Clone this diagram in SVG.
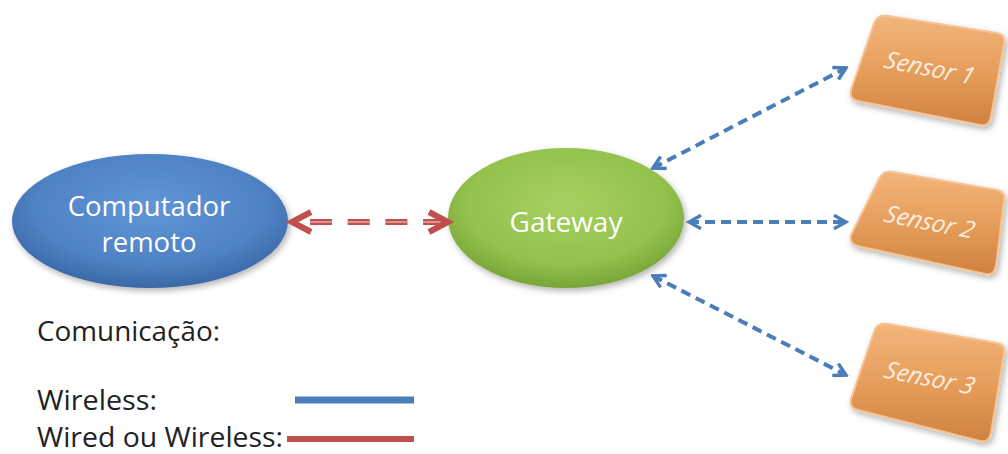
<svg xmlns="http://www.w3.org/2000/svg" width="1008" height="454" viewBox="0 0 1008 454">
<defs>
<radialGradient id="gBlue" cx="0.5" cy="0.4" r="0.6">
<stop offset="0" stop-color="#6096d6"/><stop offset="0.7" stop-color="#4f82c4"/><stop offset="1" stop-color="#3a68a5"/>
</radialGradient>
<radialGradient id="gGreen" cx="0.5" cy="0.4" r="0.6">
<stop offset="0" stop-color="#a6d060"/><stop offset="0.7" stop-color="#94c24d"/><stop offset="1" stop-color="#78a538"/>
</radialGradient>
<linearGradient id="gOrange" x1="0" y1="0" x2="0" y2="1">
<stop offset="0" stop-color="#f3b57c"/><stop offset="0.5" stop-color="#e69e5b"/><stop offset="1" stop-color="#cf8240"/>
</linearGradient>
<filter id="sh" x="-20%" y="-20%" width="140%" height="140%">
<feGaussianBlur in="SourceAlpha" stdDeviation="3"/><feOffset dx="2" dy="3"/>
<feComponentTransfer><feFuncA type="linear" slope="0.3"/></feComponentTransfer>
<feMerge><feMergeNode/><feMergeNode in="SourceGraphic"/></feMerge>
</filter>
<marker id="bh" viewBox="0 0 12 12" refX="10" refY="6" markerWidth="4" markerHeight="4" orient="auto-start-reverse" markerUnits="strokeWidth">
<path d="M1,1 L10,6 L1,11" fill="none" stroke="#4a7ebb" stroke-width="2.6"/>
</marker>
</defs>
<style>
.lbl{font-family:"Open Sans","Liberation Sans",sans-serif;fill:#ffffff;text-anchor:middle}
.leg{font-family:"Open Sans","Liberation Sans",sans-serif;fill:#222222;font-size:27px}
.blue{fill:none;stroke:#4a7ebb;stroke-width:4;stroke-dasharray:10 6}
.sens{fill:url(#gOrange);stroke:#f6c393;stroke-width:2;filter:url(#sh)}
.stxt{font-family:"Open Sans","Liberation Sans",sans-serif;fill:#fbeee0;font-size:24px;text-anchor:middle;font-style:italic}
.red{fill:none;stroke:#c0504d;stroke-width:6}
</style>
<rect width="1008" height="454" fill="#ffffff"/>
<g id="computador">
<ellipse cx="150" cy="221" rx="138" ry="67" fill="url(#gBlue)" filter="url(#sh)"/>
<text class="lbl" x="149" y="216" font-size="27.5">Computador</text>
<text class="lbl" x="149" y="252" font-size="27.5">remoto</text>
</g>
<g id="gateway">
<ellipse cx="566" cy="218" rx="118" ry="70" fill="url(#gGreen)" filter="url(#sh)"/>
<text class="lbl" x="566" y="232" font-size="28">Gateway</text>
</g>
<g id="sensor1">
<path class="sens" d="M888,16 L997,33 Q1006,35 1004,44 L991,117 Q989,127 980,125 L858,101 Q849,99 851,90 L874,24 Q877,14 888,16 Z"/>
<text class="stxt" transform="translate(927,76) rotate(11) skewX(-8)">Sensor 1</text>
</g>
<g id="sensor2">
<path class="sens" d="M893,172 L997,190 Q1006,192 1004,201 L996,266 Q994,276 985,274 L858,246 Q849,244 851,235 L879,179 Q883,170 893,172 Z"/>
<text class="stxt" transform="translate(927,230) rotate(11) skewX(-8)">Sensor 2</text>
</g>
<g id="sensor3">
<path class="sens" d="M888,324 L997,343 Q1006,345 1004,354 L991,433 Q989,443 980,441 L858,410 Q849,408 851,399 L874,332 Q877,322 888,324 Z"/>
<text class="stxt" transform="translate(927,386) rotate(11) skewX(-8)">Sensor 3</text>
</g>
<g id="connectors">
<line class="red" x1="310" y1="222" x2="446" y2="222" stroke-dasharray="22 15.7"/>
<line x1="310" y1="222" x2="446" y2="222" stroke="#e6aaa8" stroke-width="1.3" stroke-dasharray="22 15.7"/>
<path class="red" d="M311,212 L292,222 L311,232" stroke-width="5"/>
<path class="red" d="M429,212 L448,222 L429,232" stroke-width="5"/>
<line class="blue" x1="653" y1="168" x2="846" y2="68" marker-start="url(#bh)" marker-end="url(#bh)"/>
<line class="blue" x1="689" y1="222" x2="846" y2="222" marker-start="url(#bh)" marker-end="url(#bh)"/>
<line class="blue" x1="653" y1="276" x2="846" y2="375" marker-start="url(#bh)" marker-end="url(#bh)"/>
</g>
<g id="legend">
<text class="leg" x="37" y="341" textLength="183" lengthAdjust="spacingAndGlyphs">Comunicação:</text>
<text class="leg" x="37" y="410" textLength="120" lengthAdjust="spacingAndGlyphs">Wireless:</text>
<text class="leg" x="37" y="447" textLength="246" lengthAdjust="spacingAndGlyphs">Wired ou Wireless:</text>
<line x1="295" y1="400" x2="414" y2="400" stroke="#4a7ebb" stroke-width="7"/>
<line x1="287" y1="439" x2="414" y2="439" stroke="#c0504d" stroke-width="6"/>
</g>
</svg>
